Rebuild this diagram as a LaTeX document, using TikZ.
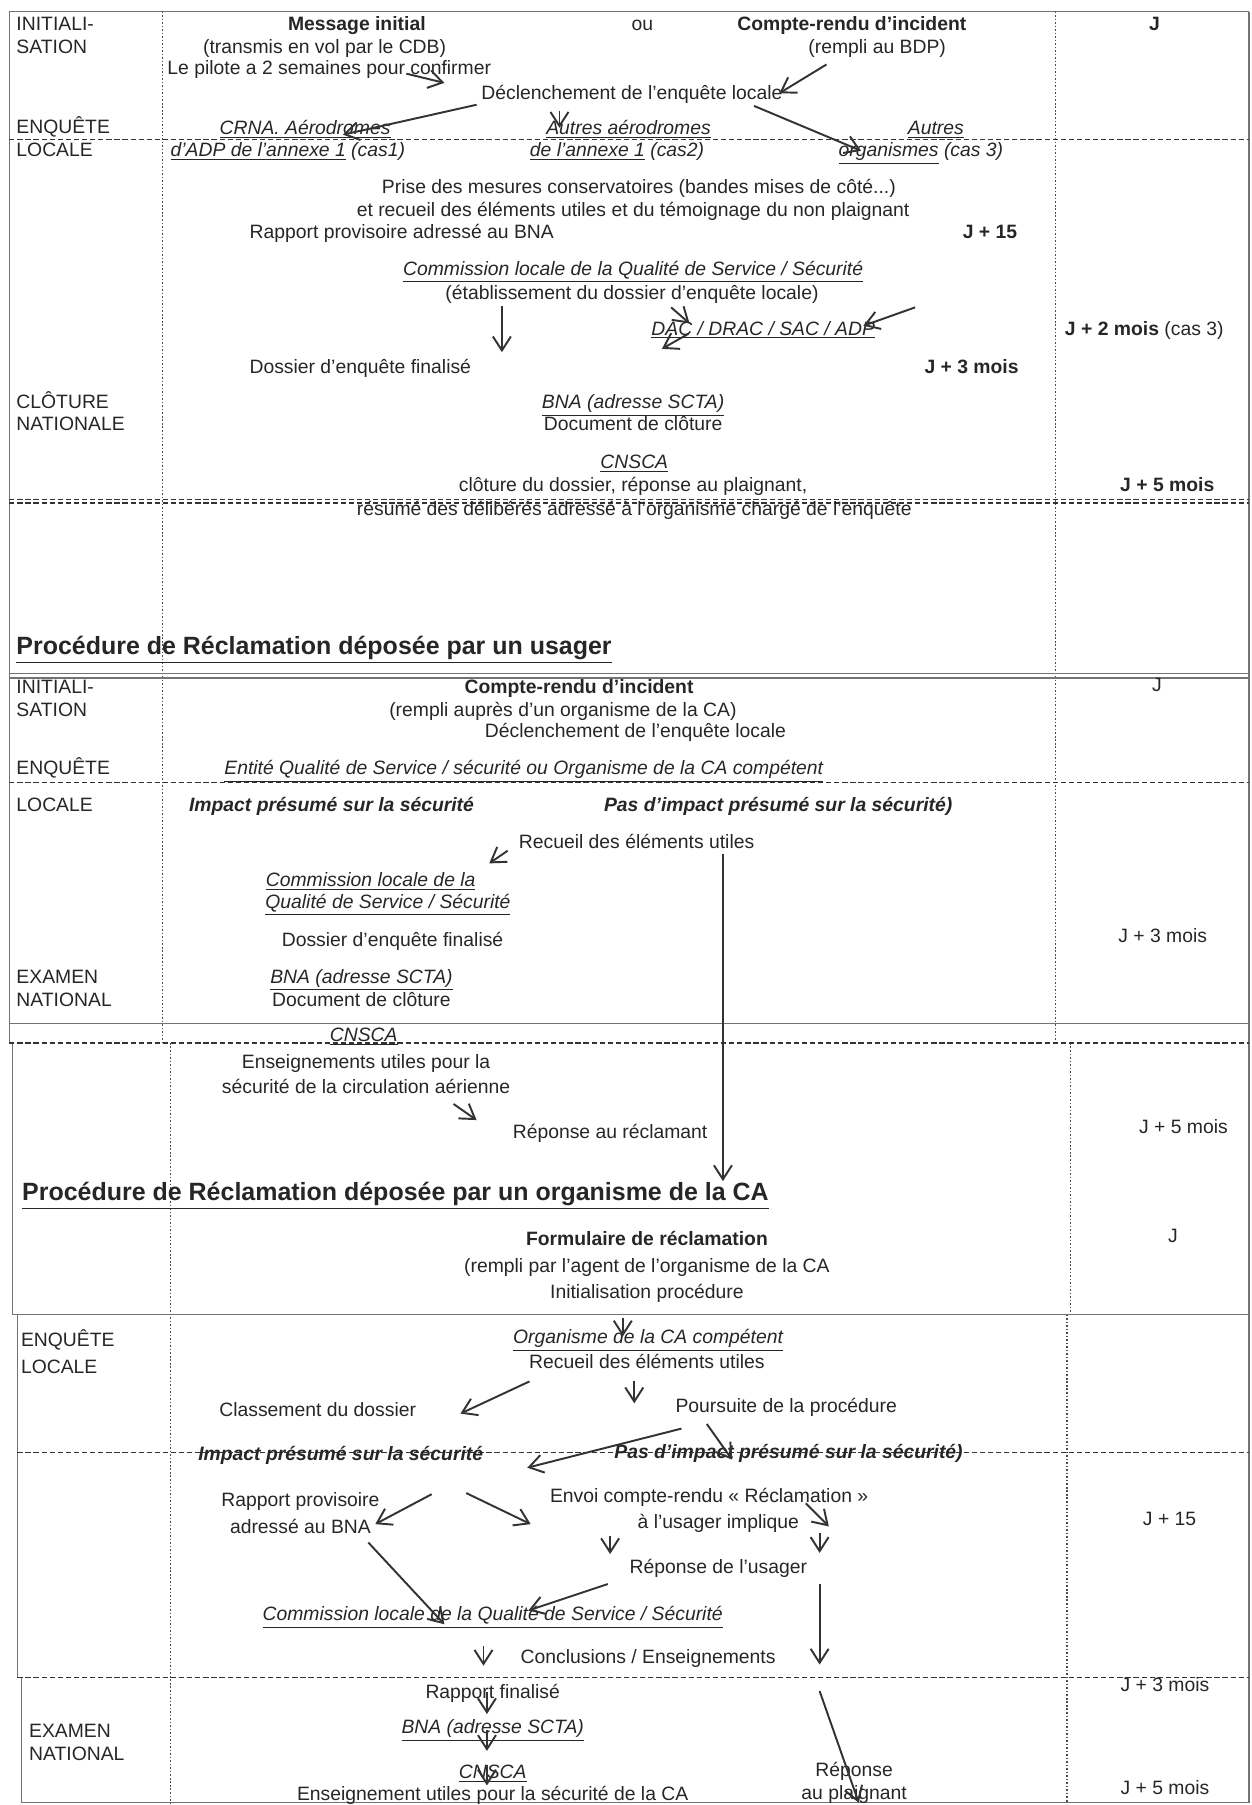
\documentclass[tikz,border=0pt]{standalone}
\usepackage{fontspec}
\setmainfont{Liberation Sans}
\usepackage{tikz}
\usetikzlibrary{arrows.meta}
\tikzset{
  rtxt/.style={font=\fontsize{11}{13}\selectfont, text=black!85, inner sep=0pt, text height=2.8mm, text depth=0pt},
  rbold/.style={rtxt, font=\fontsize{11}{13}\selectfont\bfseries},
  rital/.style={rtxt, font=\fontsize{11}{13}\selectfont\itshape},
  rbit/.style={rtxt, font=\fontsize{11}{13}\selectfont\bfseries\itshape},
  rlbl/.style={rtxt, anchor=west},
  rhead/.style={font=\fontsize{14.2}{17}\selectfont\bfseries, text=black!85, anchor=west, inner sep=0pt, text height=3.6mm, text depth=0pt},
  rsolid/.style={line width=0.7pt, draw=black!55},
  rdash/.style={line width=0.8pt, draw=black!80, dash pattern=on 3pt off 1.6pt},
  rdot/.style={line width=0.9pt, draw=black!70, dash pattern=on 0.9pt off 1.1pt},
  rarrow/.style={line width=1.1pt, draw=black!80, -{Straight Barb[length=2.8mm,width=3.6mm]}},
}
\begin{document}
\begin{tikzpicture}[x=0.023017cm, y=-0.023017cm]
\useasboundingbox (0,0) rectangle (1087,1568);
\draw[rsolid] (8,10) -- (1085,10);
\draw[rsolid] (8,10) -- (8,906);
\draw[rsolid] (11,906) -- (11,1142);
\draw[rsolid] (15,1142) -- (15,1457);
\draw[rsolid] (19,1457) -- (19,1566);
\draw[rsolid] (1085,10) -- (1085,1566);
\draw[rsolid] (19,1566) -- (1085,1566);
\draw[rdot] (141,10) -- (141,906);
\draw[rdot] (148,906) -- (148,1566);
\draw[rdot] (917,10) -- (917,906);
\draw[rdot] (930,906) -- (930,1142);
\draw[rdot] (927,1142) -- (927,1566);
\draw[rdash] (8,121) -- (1085,121);
\draw[rdash] (8,434) -- (1085,434);
\draw[rdash] (8,437) -- (1085,437);
\draw[rsolid] (8,585) -- (1085,585);
\draw[rsolid] (8,589) -- (1085,589);
\draw[rdash] (8,680) -- (1085,680);
\draw[rsolid] (8,889) -- (1085,889);
\draw[rdash] (8,906) -- (1085,906);
\draw[rsolid] (11,1142) -- (1085,1142);
\draw[rdash] (15,1262) -- (1085,1262);
\draw[rdash] (15,1457) -- (1085,1457);

\node[rlbl] (iniA) at (14,20) {INITIALI-};
\node[rlbl] (satA) at (14,40) {SATION};
\node[rbold] (msg) at (310,20) {Message initial};
\node[rtxt] (transmis) at (282,40) {(transmis en vol par le CDB)};
\node[rtxt] (pilote) at (286,59) {Le pilote a 2 semaines pour confirmer};
\node[rtxt] (ou) at (558,20) {ou};
\node[rbold] (criA) at (740,20) {Compte-rendu d’incident};
\node[rtxt] (bdp) at (762,40) {(rempli au BDP)};
\node[rtxt] (declA) at (549,80) {Déclenchement de l’enquête locale};
\node[rlbl] (enqA) at (14,110) {ENQUÊTE};
\node[rlbl] (locA) at (14,130) {LOCALE};
\node[rital] (crna) at (265,111) {\underline{CRNA. Aérodromes}};
\node[rital] (adp) at (250,130) {\underline{d’ADP de l’annexe 1} (cas1)};
\node[rital] (autaer) at (546,111) {\underline{Autres aérodromes}};
\node[rital] (annexe) at (536,130) {\underline{de l’annexe 1} (cas2)};
\node[rital] (autres) at (813,111) {\underline{Autres}};
\node[rital] (orgs) at (800,130) {\underline{organismes} (cas 3)};
\node[rbold] (jA) at (1003,20) {J};
\node[rtxt] (prise) at (555,162) {Prise des mesures conservatoires (bandes mises de côté...)};
\node[rtxt] (recA) at (550,182) {et recueil des éléments utiles et du témoignage du non plaignant};
\node[rtxt] (rapA) at (349,201) {Rapport provisoire adressé au BNA};
\node[rbold] (j15A) at (860,201) {J + 15};
\node[rital] (comA) at (550,233) {\underline{Commission locale de la Qualité de Service / Sécurité}};
\node[rtxt] (etab) at (549,254) {(établissement du dossier d’enquête locale)};
\node[rital] (dac) at (663,285) {\underline{DAC / DRAC / SAC / ADP}};
\node[rtxt] (j2m) at (994,285) {\textbf{J + 2 mois} (cas 3)};
\node[rtxt] (dossA) at (313,318) {Dossier d’enquête finalisé};
\node[rbold] (j3A) at (844,318) {J + 3 mois};
\node[rlbl] (cloA) at (14,349) {CLÔTURE};
\node[rlbl] (natA) at (14,368) {NATIONALE};
\node[rital] (bnaA) at (550,349) {\underline{BNA (adresse SCTA)}};
\node[rtxt] (docA) at (550,368) {Document de clôture};
\node[rital] (cnscaA) at (551,401) {\underline{CNSCA}};
\node[rtxt] (clotA) at (550,421) {clôture du dossier, réponse au plaignant,};
\node[rtxt] (resume) at (551,442) {résumé des délibérés adressé à l’organisme chargé de l’enquête};
\node[rbold] (j5A) at (1014,421) {J + 5 mois};

\coordinate (a1s) at (353,64); \coordinate (a1e) at (386,72);
\coordinate (a2s) at (718,56); \coordinate (a2e) at (677,81);
\coordinate (a3s) at (414,91); \coordinate (a3e) at (298,117);
\coordinate (a4s) at (486,96); \coordinate (a4e) at (486,111);
\coordinate (a5s) at (655,92); \coordinate (a5e) at (748,131);
\coordinate (a6s) at (436,266); \coordinate (a6e) at (436,306);
\coordinate (a7s) at (583,267); \coordinate (a7e) at (599,281);
\coordinate (a8s) at (795,267); \coordinate (a8e) at (750,283);
\coordinate (a9s) at (598,290); \coordinate (a9e) at (575,303);
\draw[rarrow] (a1s) -- (a1e);
\draw[rarrow] (a2s) -- (a2e);
\draw[rarrow] (a3s) -- (a3e);
\draw[rarrow] (a4s) -- (a4e);
\draw[rarrow] (a5s) -- (a5e);
\draw[rarrow] (a6s) -- (a6e);
\draw[rarrow] (a7s) -- (a7e);
\draw[rarrow] (a8s) -- (a8e);
\draw[rarrow] (a9s) -- (a9e);

\node[rhead] (headB) at (14,561) {\underline{Procédure de Réclamation déposée par un usager}};
\node[rlbl] (iniB) at (14,596) {INITIALI-};
\node[rlbl] (satB) at (14,616) {SATION};
\node[rbold] (criB) at (503,596) {Compte-rendu d’incident};
\node[rtxt] (aupres) at (489,616) {(rempli auprès d’un organisme de la CA)};
\node[rtxt] (declB) at (552,635) {Déclenchement de l’enquête locale};
\node[rtxt] (jB) at (1005,595) {J};
\node[rlbl] (enqB) at (14,667) {ENQUÊTE};
\node[rital] (entite) at (455,667) {\underline{Entité Qualité de Service / sécurité ou Organisme de la CA compétent}};
\node[rlbl] (locB) at (14,699) {LOCALE};
\node[rbit] (impB) at (288,699) {Impact présumé sur la sécurité};
\node[rbit] (pasB) at (676,699) {Pas d’impact présumé sur la sécurité)};
\node[rtxt] (recB) at (553,731) {Recueil des éléments utiles};
\node[rital] (comB) at (322,764) {\underline{Commission locale de la}};
\node[rital] (qualB) at (337,783) {\underline{Qualité de Service / Sécurité}};
\node[rtxt] (dossB) at (341,816) {Dossier d’enquête finalisé};
\node[rtxt] (j3B) at (1010,813) {J + 3 mois};
\node[rlbl] (exB) at (14,848) {EXAMEN};
\node[rlbl] (natB) at (14,868) {NATIONAL};
\node[rital] (bnaB) at (314,848) {\underline{BNA (adresse SCTA)}};
\node[rtxt] (docB) at (314,868) {Document de clôture};
\node[rital] (cnscaB) at (316,899) {\underline{CNSCA}};
\node[rtxt] (ensB) at (318,922) {Enseignements utiles pour la};
\node[rtxt] (secB) at (318,944) {sécurité de la circulation aérienne};
\node[rtxt] (repB) at (530,983) {Réponse au réclamant};
\node[rtxt] (j5B) at (1028,979) {J + 5 mois};

\coordinate (b1s) at (441,739); \coordinate (b1e) at (425,750);
\coordinate (b2s) at (628,742); \coordinate (b2e) at (628,1026);
\coordinate (b3s) at (394,959); \coordinate (b3e) at (414,973);
\draw[rarrow] (b1s) -- (b1e);
\draw[rarrow] (b2s) -- (b2e);
\draw[rarrow] (b3s) -- (b3e);

\node[rhead] (headC) at (19,1035) {\underline{Procédure de Réclamation déposée par un organisme de la CA}};
\node[rbold] (form) at (562,1076) {Formulaire de réclamation};
\node[rtxt] (agent) at (562,1099) {(rempli par l’agent de l’organisme de la CA};
\node[rtxt] (initp) at (562,1122) {Initialisation procédure};
\node[rtxt] (jC) at (1019,1073) {J};
\node[rlbl] (enqC) at (18,1164) {ENQUÊTE};
\node[rlbl] (locC) at (18,1187) {LOCALE};
\node[rital] (orgC) at (563,1161) {\underline{Organisme de la CA compétent}};
\node[rtxt] (recC) at (562,1183) {Recueil des éléments utiles};
\node[rtxt] (classe) at (276,1224) {Classement du dossier};
\node[rtxt] (pours) at (683,1221) {Poursuite de la procédure};
\node[rbit] (impC) at (296,1263) {Impact présumé sur la sécurité};
\node[rbit] (pasC) at (685,1261) {Pas d’impact présumé sur la sécurité)};
\node[rtxt] (rapC) at (261,1303) {Rapport provisoire};
\node[rtxt] (adrC) at (261,1326) {adressé au BNA};
\node[rtxt] (envoi) at (616,1299) {Envoi compte-rendu « Réclamation »};
\node[rtxt] (usager) at (624,1322) {à l’usager implique};
\node[rtxt] (j15C) at (1016,1319) {J + 15};
\node[rtxt] (repus) at (624,1361) {Réponse de l’usager};
\node[rital] (comC) at (428,1402) {\underline{Commission locale de la Qualité de Service / Sécurité}};
\node[rtxt] (concl) at (563,1439) {Conclusions / Enseignements};
\node[rtxt] (rapfin) at (428,1469) {Rapport finalisé};
\node[rtxt] (j3C) at (1012,1463) {J + 3 mois};
\node[rlbl] (exC) at (25,1503) {EXAMEN};
\node[rlbl] (natC) at (25,1523) {NATIONAL};
\node[rital] (bnaC) at (428,1500) {\underline{BNA (adresse SCTA)}};
\node[rital] (cnscaC) at (428,1539) {\underline{CNSCA}};
\node[rtxt] (ensC) at (428,1558) {Enseignement utiles pour la sécurité de la CA};
\node[rtxt] (repC) at (742,1537) {Réponse};
\node[rtxt] (plaiC) at (742,1557) {au plaignant};
\node[rtxt] (j5C) at (1012,1553) {J + 5 mois};

\coordinate (c1s) at (541,1145); \coordinate (c1e) at (541,1161);
\coordinate (c2s) at (460,1200); \coordinate (c2e) at (400,1228);
\coordinate (c3s) at (551,1200); \coordinate (c3e) at (551,1219);
\coordinate (c4s) at (592,1241); \coordinate (c4e) at (458,1275);
\coordinate (c5s) at (614,1237); \coordinate (c5e) at (636,1268);
\coordinate (c6s) at (375,1298); \coordinate (c6e) at (326,1324);
\coordinate (c7s) at (405,1297); \coordinate (c7e) at (461,1324);
\coordinate (c8s) at (530,1334); \coordinate (c8e) at (530,1350);
\coordinate (c9s) at (700,1306); \coordinate (c9e) at (720,1326);
\coordinate (c10s) at (712,1332); \coordinate (c10e) at (712,1349);
\coordinate (c11s) at (320,1340); \coordinate (c11e) at (386,1411);
\coordinate (c12s) at (528,1376); \coordinate (c12e) at (459,1399);
\coordinate (c13s) at (712,1376); \coordinate (c13e) at (712,1446);
\coordinate (c14s) at (420,1430); \coordinate (c14e) at (420,1447);
\coordinate (c15s) at (423,1470); \coordinate (c15e) at (423,1489);
\coordinate (c16s) at (423,1503); \coordinate (c16e) at (423,1521);
\coordinate (c17s) at (423,1533); \coordinate (c17e) at (423,1551);
\coordinate (c18s) at (712,1469); \coordinate (c18e) at (746,1566);
\draw[rarrow] (c1s) -- (c1e);
\draw[rarrow] (c2s) -- (c2e);
\draw[rarrow] (c3s) -- (c3e);
\draw[rarrow] (c4s) -- (c4e);
\draw[rarrow] (c5s) -- (c5e);
\draw[rarrow] (c6s) -- (c6e);
\draw[rarrow] (c7s) -- (c7e);
\draw[rarrow] (c8s) -- (c8e);
\draw[rarrow] (c9s) -- (c9e);
\draw[rarrow] (c10s) -- (c10e);
\draw[rarrow] (c11s) -- (c11e);
\draw[rarrow] (c12s) -- (c12e);
\draw[rarrow] (c13s) -- (c13e);
\draw[rarrow] (c14s) -- (c14e);
\draw[rarrow] (c15s) -- (c15e);
\draw[rarrow] (c16s) -- (c16e);
\draw[rarrow] (c17s) -- (c17e);
\draw[rarrow] (c18s) -- (c18e);
\end{tikzpicture}
\end{document}
